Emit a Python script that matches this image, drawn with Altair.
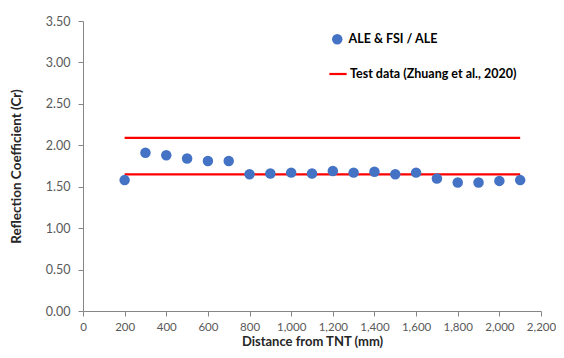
import altair as alt
import pandas as pd

distance = [200, 300, 400, 500, 600, 700, 800, 900, 1000, 1100, 1200, 1300,
            1400, 1500, 1600, 1700, 1800, 1900, 2000, 2100]
cr = [1.58, 1.91, 1.88, 1.84, 1.81, 1.81, 1.65, 1.66, 1.67, 1.66, 1.69, 1.67,
      1.68, 1.65, 1.67, 1.60, 1.55, 1.55, 1.57, 1.58]
test_x = [200, 2100]
test_upper = [2.09, 2.09]
test_lower = [1.65, 1.65]

S1 = "ALE & FSI / ALE"
S2 = "Test data (Zhuang et al., 2020)"

pts = pd.DataFrame({"x": distance, "y": cr, "s": S1})
lines = pd.DataFrame({
    "x": test_x + test_x,
    "y": test_upper + test_lower,
    "g": ["u", "u", "l", "l"],
    "s": S2,
})

FONT = "Lato"
xs = alt.Scale(domain=[0, 2200], nice=False)
ys = alt.Scale(domain=[0, 3.5], nice=False)

xaxis = alt.Axis(values=list(range(0, 2201, 200)), format=",.0f", grid=False,
                 labelOverlap=False, labelFlush=False,
                 title="Distance from TNT (mm)", labelFontSize=11.5, labelColor="#595959",
                 titleFontSize=13, titleFontWeight="bold", titleColor="#262626",
                 titlePadding=3, domainColor="#868686", tickColor="#868686",
                 tickSize=5, labelPadding=5, labelFont=FONT, titleFont=FONT)
yaxis = alt.Axis(values=[0, 0.5, 1, 1.5, 2, 2.5, 3, 3.5], format=".2f", grid=False,
                 labelFlush=False,
                 title="Reflection Coefficient (Cr)", labelFontSize=12.5, labelColor="#595959",
                 titleFontSize=13.5, titleFontWeight="bold", titleColor="#262626",
                 titlePadding=22, domainColor="#868686", tickColor="#868686",
                 tickSize=5, labelPadding=8, labelFont=FONT, titleFont=FONT)

line_layer = alt.Chart(lines).mark_line(strokeWidth=2.2).encode(
    x=alt.X("x:Q", scale=xs, axis=xaxis),
    y=alt.Y("y:Q", scale=ys, axis=yaxis),
    detail="g:N",
    color=alt.Color("s:N", scale=alt.Scale(domain=[S2], range=["#FF0000"]),
                    legend=alt.Legend(title=None, orient="none", legendX=245, legendY=43,
                                      labelFontSize=12.5, labelFontWeight="bold",
                                      labelFont=FONT, labelColor="#000000",
                                      labelLimit=400,
                                      symbolSize=300, symbolStrokeWidth=2.2,
                                      labelOffset=2)),
)

pt_layer = alt.Chart(pts).mark_circle(size=110, opacity=1).encode(
    x=alt.X("x:Q", scale=xs),
    y=alt.Y("y:Q", scale=ys),
    fill=alt.Fill("s:N", scale=alt.Scale(domain=[S1], range=["#4472C4"]),
                  legend=alt.Legend(title=None, orient="none", legendX=248, legendY=12,
                                    labelFontSize=12.5, labelFontWeight="bold",
                                    labelFont=FONT, labelColor="#000000",
                                    labelLimit=400,
                                    symbolSize=110, symbolType="circle",
                                    symbolStrokeWidth=0, labelOffset=5)),
)

chart = alt.layer(line_layer, pt_layer).properties(
    width=458, height=290,
    autosize=alt.AutoSizeParams(type="none"),
    padding={"left": 75, "top": 13, "right": 15, "bottom": 39},
    background="white",
).configure_view(stroke=None)

chart.save("out.html", embed_options={"renderer": "svg", "actions": False})
